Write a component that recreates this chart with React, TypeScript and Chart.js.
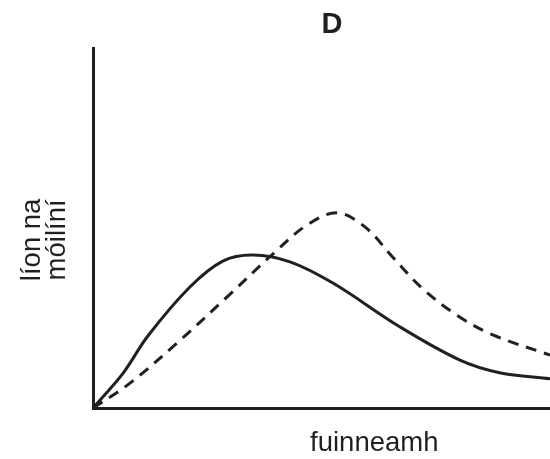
import React, { useEffect, useRef } from "react";
import { Chart, registerables } from "chart.js";

Chart.register(...registerables);

const titleText = "D";
const xAxisLabel = "fuinneamh";
const yAxisLabel = ["líon na", "móilíní"];

// solid curve (x, y) in arbitrary units 0..100
const solidX = [0, 6.6, 12.0, 21.2, 28.4, 35.0, 43.1, 52.5, 67.2, 80.3, 89.0, 100];
const solidY = [0, 9.7, 20.0, 33.6, 40.8, 42.5, 40.6, 34.7, 22.5, 13.3, 9.8, 8.1];

// dashed curve
const dashedX = [0, 8.1, 18.6, 29.3, 39.8, 46.8, 53.4, 59.5, 65.6, 72.0, 79.6, 87.5, 100];
const dashedY = [0, 6.9, 18.3, 30.8, 43.3, 50.8, 54.2, 50.3, 41.9, 33.3, 25.8, 20.3, 14.7];

const INK = "#231f20";
const FONT = "'Liberation Sans', Arial, Helvetica, sans-serif";

const textPlugin = {
  id: "textLabels",
  afterDraw(chart: any) {
    const { ctx, chartArea } = chart;
    const { left, right, top, bottom } = chartArea;
    const w = right - left;
    ctx.save();
    ctx.fillStyle = INK;
    // title
    ctx.font = `bold 29px ${FONT}`;
    ctx.textAlign = "center";
    ctx.textBaseline = "middle";
    ctx.fillText(titleText, left + w * 0.523, top - 23);
    // x label
    ctx.font = `27.5px ${FONT}`;
    ctx.textBaseline = "alphabetic";
    ctx.fillText(xAxisLabel, left + w * 0.6155, bottom + 43);
    // y label (rotated)
    ctx.font = `27.5px ${FONT}`;
    ctx.translate(left - 61, top + (bottom - top) * 0.533);
    ctx.rotate(-Math.PI / 2);
    ctx.textBaseline = "middle";
    ctx.fillText(yAxisLabel[0], 0, 0);
    ctx.fillText(yAxisLabel[1], 0, 25);
    ctx.restore();
  },
};

export default function App() {
  const ref = useRef<HTMLCanvasElement | null>(null);
  useEffect(() => {
    if (!ref.current) return;
    const chart = new Chart(ref.current, {
      type: "line",
      data: {
        datasets: [
          {
            data: solidX.map((x, i) => ({ x, y: solidY[i] })),
            borderColor: INK,
            borderWidth: 3,
            pointRadius: 0,
            tension: 0.35,
            fill: false,
          },
          {
            data: dashedX.map((x, i) => ({ x, y: dashedY[i] })),
            borderColor: INK,
            borderWidth: 3,
            borderDash: [11, 8],
            pointRadius: 0,
            tension: 0.35,
            fill: false,
          },
        ],
      },
      options: {
        animation: false,
        responsive: false,
        layout: { padding: { left: 93, top: 48, right: 0, bottom: 51 } },
        plugins: { legend: { display: false }, tooltip: { enabled: false }, title: { display: false } },
        scales: {
          x: {
            type: "linear",
            min: 0,
            max: 100,
            grid: { display: false, drawTicks: false },
            ticks: { display: false },
            border: { display: true, color: INK, width: 3 },
          },
          y: {
            type: "linear",
            min: 0,
            max: 100,
            grid: { display: false, drawTicks: false },
            ticks: { display: false },
            border: { display: true, color: INK, width: 3 },
          },
        },
      },
      plugins: [textPlugin],
    } as any);
    return () => chart.destroy();
  }, []);
  return (
    <div style={{ position: "fixed", left: 0, top: 0, width: 550, height: 459, background: "#fff" }}>
      <canvas ref={ref} width={550} height={459} style={{ display: "block" }} />
    </div>
  );
}
